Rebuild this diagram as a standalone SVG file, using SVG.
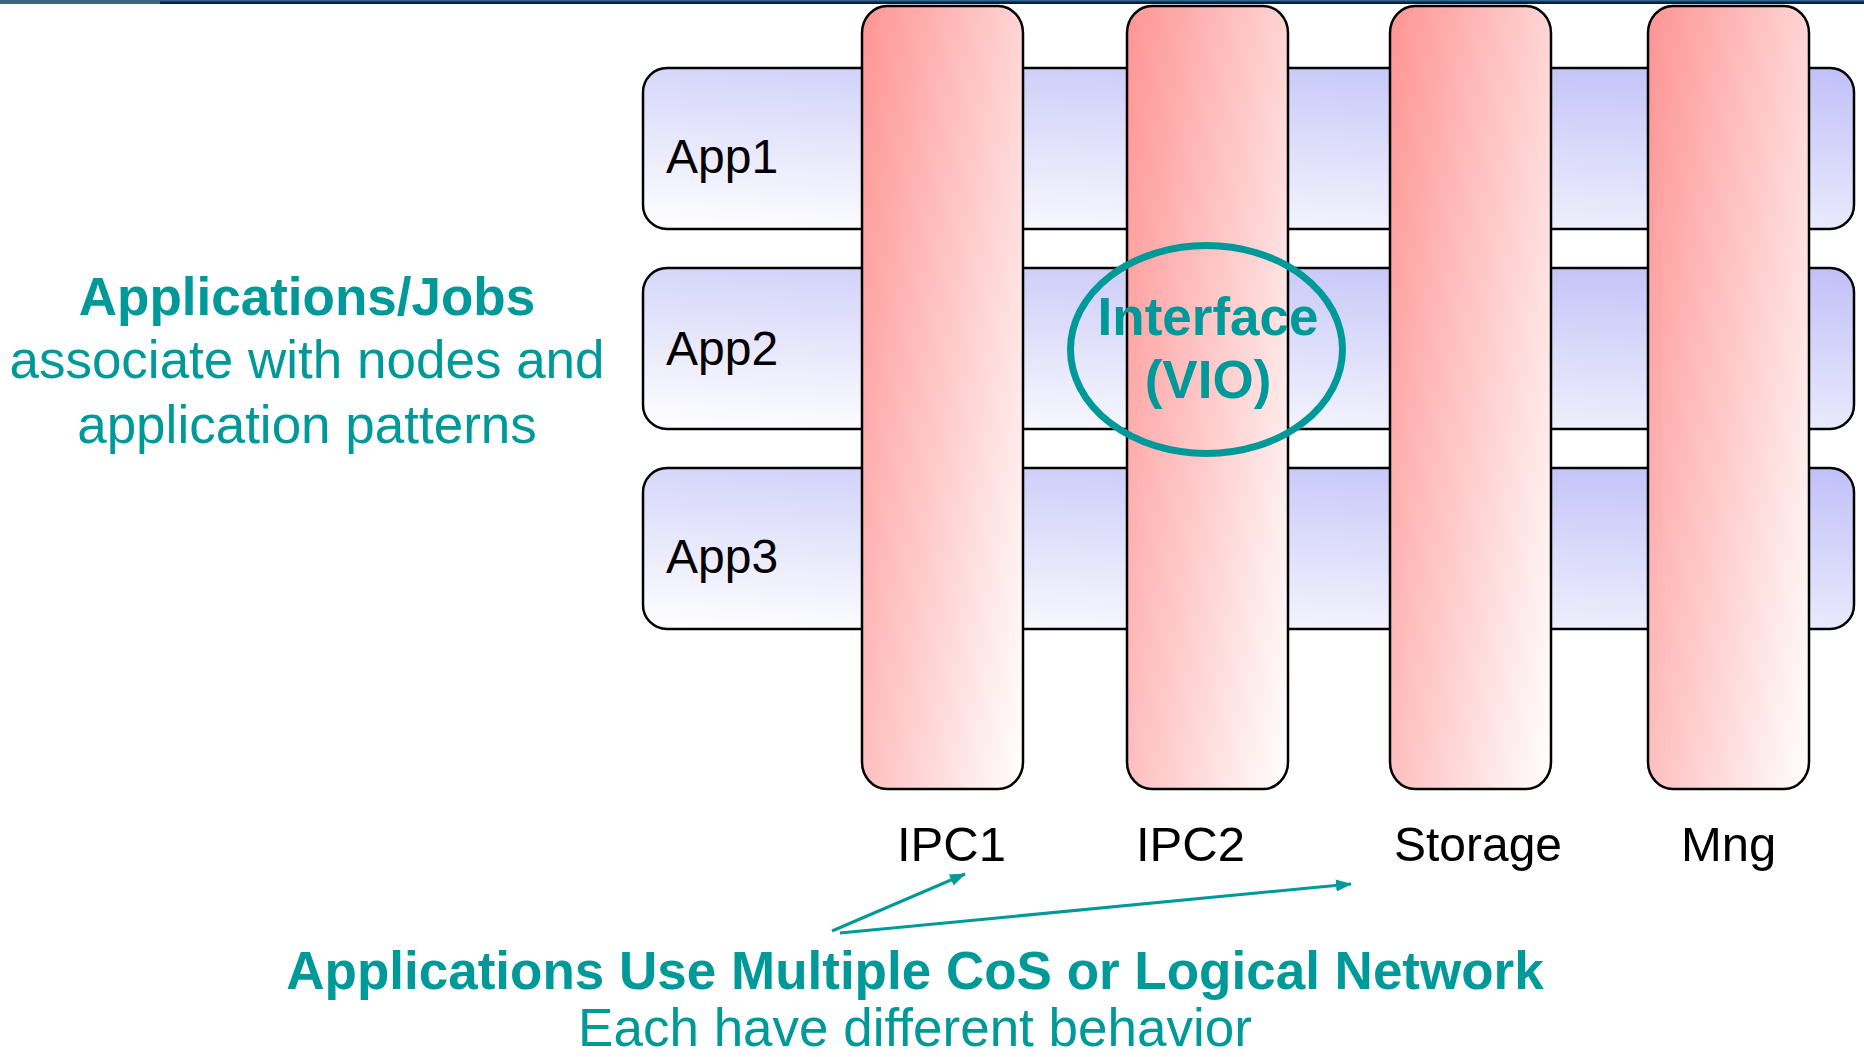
<svg xmlns="http://www.w3.org/2000/svg" width="1864" height="1057" viewBox="0 0 1864 1057">
  <defs>
    <linearGradient id="appGrad" x1="1" y1="0" x2="0.358" y2="1.193">
      <stop offset="0" stop-color="#c0c0f8"/>
      <stop offset="1" stop-color="#ffffff"/>
    </linearGradient>
    <linearGradient id="pillarGrad" x1="0" y1="0" x2="1.154" y2="0.769">
      <stop offset="0" stop-color="#ff9494"/>
      <stop offset="1" stop-color="#ffffff"/>
    </linearGradient>
    <marker id="arrow" markerUnits="userSpaceOnUse" markerWidth="18" markerHeight="14" refX="15" refY="6" orient="auto">
      <path d="M0,0 L16,6 L0,12 z" fill="#009999"/>
    </marker>
  </defs>
  <style>
    .app { fill: url(#appGrad); stroke: #000; stroke-width: 2.5; }
    .pillar { fill: url(#pillarGrad); stroke: #000; stroke-width: 2.5; }
    .lbl { font-family: "Liberation Sans", Arial, sans-serif; fill: #000; }
    .applbl { font-size: 48px; }
    .plbl { font-size: 49px; }
    .teal { font-family: "Liberation Sans", Arial, sans-serif; fill: #009999; font-size: 53px; }
    .bold { font-weight: bold; }
    .conn { stroke: #009999; stroke-width: 3; fill: none; marker-end: url(#arrow); }
  </style>

  <rect x="0" y="0" width="1864" height="1057" fill="#ffffff"/>
  <rect x="0" y="0" width="1864" height="4" fill="#0b1f3a"/>
  <rect x="0" y="0" width="1864" height="1.5" fill="#2f6390"/>
  <rect x="0" y="0" width="160" height="4" fill="#3f6585"/>

  <g id="node-app1">
    <rect class="app" x="643" y="68" width="1211" height="161" rx="24" ry="24"/>
    <text class="lbl applbl" x="666" y="173">App1</text>
  </g>
  <g id="node-app2">
    <rect class="app" x="643" y="268" width="1211" height="161" rx="24" ry="24"/>
    <text class="lbl applbl" x="666" y="365">App2</text>
  </g>
  <g id="node-app3">
    <rect class="app" x="643" y="468" width="1211" height="161" rx="24" ry="24"/>
    <text class="lbl applbl" x="666" y="573">App3</text>
  </g>

  <g id="node-ipc1">
    <rect class="pillar" x="862" y="6" width="161" height="783" rx="25" ry="27"/>
    <text class="lbl plbl" x="897" y="861">IPC1</text>
  </g>
  <g id="node-ipc2">
    <rect class="pillar" x="1127" y="6" width="161" height="783" rx="25" ry="27"/>
    <text class="lbl plbl" x="1136" y="861">IPC2</text>
  </g>
  <g id="node-storage">
    <rect class="pillar" x="1390" y="6" width="161" height="783" rx="25" ry="27"/>
    <text class="lbl plbl" x="1394" y="861" textLength="168" lengthAdjust="spacingAndGlyphs">Storage</text>
  </g>
  <g id="node-mng">
    <rect class="pillar" x="1648" y="6" width="161" height="783" rx="25" ry="27"/>
    <text class="lbl plbl" x="1681" y="861">Mng</text>
  </g>

  <g id="node-interface">
    <ellipse cx="1206.5" cy="349.5" rx="136" ry="104" fill="none" stroke="#009999" stroke-width="7"/>
    <text class="teal bold" x="1208" y="335" text-anchor="middle">Interface</text>
    <text class="teal bold" x="1208" y="398" text-anchor="middle">(VIO)</text>
  </g>

  <g id="note-applications">
    <text class="teal bold" x="307" y="315" text-anchor="middle">Applications/Jobs</text>
    <text class="teal" x="307" y="378" text-anchor="middle">associate with nodes and</text>
    <text class="teal" x="307" y="443" text-anchor="middle">application patterns</text>
  </g>

  <g id="note-cos">
    <text class="teal bold" x="915" y="989" text-anchor="middle">Applications Use Multiple CoS or Logical Network</text>
    <text class="teal" x="915" y="1046" text-anchor="middle">Each have different behavior</text>
  </g>

  <g id="connectors">
    <line class="conn" x1="832" y1="931" x2="965" y2="874"/>
    <line class="conn" x1="840" y1="933" x2="1351" y2="884"/>
  </g>
</svg>
